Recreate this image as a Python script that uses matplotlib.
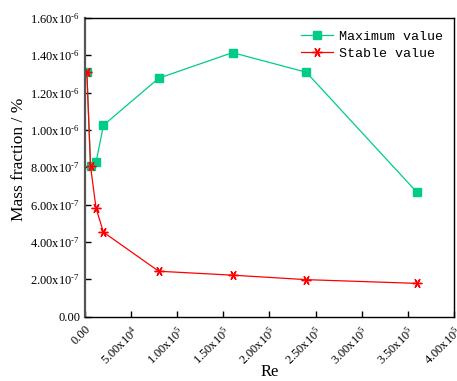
import numpy as np
import matplotlib
matplotlib.use('Agg')
import matplotlib.pyplot as plt
from matplotlib.ticker import FuncFormatter, MultipleLocator

plt.rcParams['font.family'] = 'Liberation Serif'
plt.rcParams['mathtext.fontset'] = 'custom'
plt.rcParams['mathtext.rm'] = 'Liberation Serif'
plt.rcParams['mathtext.it'] = 'Liberation Serif'

# Reynolds number and mass fraction series
re = [2000, 6000, 12000, 20000, 80000, 160000, 240000, 360000]
max_value = [1.31e-6, 8.05e-7, 8.27e-7, 1.025e-6, 1.277e-6, 1.414e-6, 1.309e-6, 6.66e-7]
stable_value = [1.31e-6, 8.05e-7, 5.8e-7, 4.52e-7, 2.43e-7, 2.22e-7, 1.98e-7, 1.78e-7]


def sci_fmt(v, pos):
    if v == 0:
        return '0.00'
    exp = int(np.floor(np.log10(abs(v)) + 1e-9))
    mant = v / 10**exp
    sexp = str(exp).replace('-', '\u2010')
    return r'%.2fx10$^{%s}$' % (mant, sexp)


fig = plt.figure(figsize=(4.57, 3.81), dpi=100)
ax = fig.add_axes([0.186, 0.169, 0.807, 0.784])

ax.plot(re, max_value, '-', color='#00cc88', lw=0.9,
        marker='s', ms=5.2, label='Maximum value')
ax.plot(re, stable_value, '-', color='#ff0000', lw=0.9,
        marker=(6, 2, 90), ms=7, mew=1.0, label='Stable value')

ax.set_xlim(0, 4e5)
ax.set_ylim(0, 1.6e-6)
ax.xaxis.set_major_locator(MultipleLocator(5e4))
ax.yaxis.set_major_locator(MultipleLocator(2e-7))
ax.xaxis.set_major_formatter(FuncFormatter(sci_fmt))
ax.yaxis.set_major_formatter(FuncFormatter(sci_fmt))
ax.tick_params(direction='in', length=4, width=1, labelsize=9)
ax.tick_params(axis='x', pad=5)
for lab in ax.get_xticklabels():
    lab.set_rotation(45)
    lab.set_ha('right')
    lab.set_va('top')
    lab.set_rotation_mode('anchor')
for s in ax.spines.values():
    s.set_linewidth(1.0)
ax.spines['left'].set_color('#555555')
ax.spines['left'].set_linewidth(1.6)

ax.set_xlabel('Re', fontsize=12)
ax.set_ylabel('Mass fraction / %', fontsize=12.5)
ax.xaxis.set_label_coords(0.5, -0.16)
ax.yaxis.set_label_coords(-0.157, 0.525)

ax.legend(loc='upper right', bbox_to_anchor=(0.986, 0.975), frameon=False,
          prop={'family': 'Liberation Mono', 'size': 9.6},
          handlelength=2.4, handletextpad=0.5, borderaxespad=0,
          labelspacing=0.35)

fig.savefig('out.png', dpi=100)
